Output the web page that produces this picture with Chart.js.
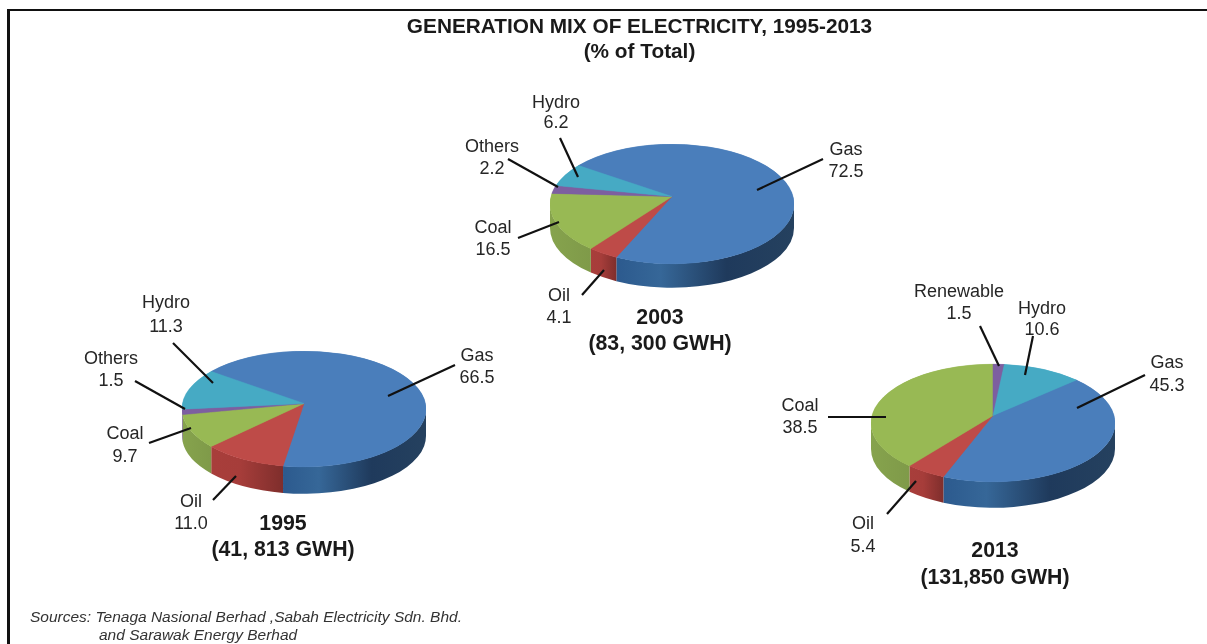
<!DOCTYPE html>
<html lang="en">
<head>
    <meta charset="UTF-8">
    <title>Generation Mix of Electricity, 1995-2013</title>
    <script src="https://cdn.jsdelivr.net/npm/chart.js@4/dist/chart.umd.min.js"></script>
    <style>
        html, body { margin: 0; padding: 0; background: #fff; overflow: hidden; }
        #page { position: relative; width: 1207px; height: 644px; font-family: "Liberation Sans", Arial, sans-serif; color: #262626; filter: blur(0.35px); }
        #frame { position: absolute; left: 7px; top: 9px; width: 1200px; height: 635px; border-left: 3px solid #111; border-top: 2px solid #111; box-sizing: border-box; }
        canvas { position: absolute; }
        svg { position: absolute; left: 0; top: 0; }
        .txt { position: absolute; transform: translate(-50%, -50%); white-space: nowrap; line-height: 1; }
        .lbl { font-size: 18px; }
        .head { font-size: 20.8px; font-weight: bold; color: #1a1a1a; }
        .year { font-size: 21.3px; font-weight: bold; color: #1a1a1a; }
        .src { position: absolute; font-size: 15.5px; font-style: italic; color: #333; white-space: nowrap; line-height: 1; }
    </style>
</head>
<body>
<div id="page">
    <div id="frame"></div>
    <div class="txt head" style="left:639.5px;top:26px">GENERATION MIX OF ELECTRICITY, 1995-2013</div>
    <div class="txt head" style="left:639.5px;top:51px">(% of Total)</div>
    <div class="src" style="left:30px;top:609px">Sources: Tenaga Nasional Berhad ,Sabah Electricity Sdn. Bhd.</div>
    <div class="src" style="left:99px;top:627px">and Sarawak Energy Berhad</div>
</div>

<script>
    // values (% of total)
    const labels1995 = ['Gas', 'Oil', 'Coal', 'Others', 'Hydro'];
    const values1995 = [66.5, 11.0, 9.7, 1.5, 11.3];
    const labels2003 = ['Gas', 'Oil', 'Coal', 'Others', 'Hydro'];
    const values2003 = [72.5, 4.1, 16.5, 2.2, 6.2];
    const labels2013 = ['Gas', 'Oil', 'Coal', 'Renewable', 'Hydro'];
    const values2013 = [45.3, 5.4, 38.5, 1.5, 10.6];

    const topColors = { Gas: '#4a7ebb', Oil: '#be4b48', Coal: '#98b954', Others: '#7d5fa0', Renewable: '#7d5fa0', Hydro: '#46aac4' };
    const wallColors = {
        Gas: [[0, '#2c5a8e'], [0.25, '#366798'], [0.62, '#1f3a5c'], [1, '#25415f']],
        Oil: [[0, '#a83e3b'], [0.4, '#a63d3a'], [1, '#7f2e2c']],
        Coal: [[0, '#86a34d'], [1, '#7f9a49']],
        Others: [[0, '#664c82'], [1, '#664c82']],
        Renewable: [[0, '#664c82'], [1, '#664c82']],
        Hydro: [[0, '#38889d'], [1, '#38889d']]
    };

    function rimRadius(arc) {
        return arc.outerRadius + 0.5;
    }

    // squashes the round pie into an ellipse and puts the side wall under it
    const tiltPlugin = {
        id: 'tilt',
        beforeDatasetsDraw(chart, args, opts) {
            const ctx = chart.ctx;
            const arcs = chart.getDatasetMeta(0).data;
            const cx = arcs[0].x, cy = arcs[0].y;
            const rx = rimRadius(arcs[0]);
            const ry = rx * opts.squash;

            arcs.forEach((arc, i) => {
                const name = chart.data.labels[i];
                for (let k = -1; k <= 1; k++) {
                    const a0 = Math.max(arc.startAngle, k * 2 * Math.PI);
                    const a1 = Math.min(arc.endAngle, k * 2 * Math.PI + Math.PI);
                    if (a1 <= a0) continue;
                    const xa = cx + rx * Math.cos(a1), xb = cx + rx * Math.cos(a0);
                    const grad = ctx.createLinearGradient(xa, 0, xb, 0);
                    wallColors[name].forEach(s => grad.addColorStop(s[0], s[1]));
                    ctx.beginPath();
                    ctx.ellipse(cx, cy, rx, ry, 0, a0, a1);
                    ctx.ellipse(cx, cy + opts.depth, rx, ry, 0, a1, a0, true);
                    ctx.closePath();
                    ctx.fillStyle = grad;
                    ctx.fill();
                }
            });

            ctx.save();
            ctx.translate(cx, cy);
            ctx.scale(1, opts.squash);
            ctx.translate(-cx, -cy);
        },
        afterDatasetsDraw(chart, args, opts) {
            const ctx = chart.ctx;
            ctx.restore();

            // perspective: the slices meet a little above the middle of the ellipse
            const arcs = chart.getDatasetMeta(0).data;
            const cx = arcs[0].x, cy = arcs[0].y;
            const rx = rimRadius(arcs[0]);
            const ry = rx * opts.squash;
            arcs.forEach((arc, i) => {
                const color = topColors[chart.data.labels[i]];
                ctx.beginPath();
                ctx.moveTo(cx, cy - opts.apexLift);
                ctx.ellipse(cx, cy, rx, ry, 0, arc.startAngle, arc.endAngle);
                ctx.closePath();
                ctx.fillStyle = color;
                ctx.strokeStyle = color;
                ctx.lineWidth = 0.5;
                ctx.fill();
                ctx.stroke();
            });
        }
    };

    const page = document.getElementById('page');

    function addPie(labels, values, rotation, cx, cy, ry, depth, apexLift) {
        const size = 244;
        const canvas = document.createElement('canvas');
        canvas.width = size;
        canvas.height = size;
        canvas.style.left = (cx - size / 2) + 'px';
        canvas.style.top = (cy - size / 2) + 'px';
        canvas.style.width = size + 'px';
        canvas.style.height = size + 'px';
        page.appendChild(canvas);

        new Chart(canvas, {
            type: 'pie',
            data: {
                labels: labels,
                datasets: [{
                    data: values,
                    backgroundColor: labels.map(n => topColors[n]),
                    borderColor: labels.map(n => topColors[n]),
                    borderWidth: 1
                }]
            },
            options: {
                responsive: false,
                animation: false,
                rotation: rotation,
                layout: { padding: 0 },
                plugins: {
                    legend: { display: false },
                    tooltip: { enabled: false },
                    tilt: { squash: ry / 121.5, depth: depth, apexLift: apexLift }
                }
            },
            plugins: [tiltPlugin]
        });
    }

    addPie(labels1995, values1995, -49.5, 303.5, 408.5, 57.5, 27, 5.5);
    addPie(labels2003, values2003, -50, 671.5, 204, 59.5, 24, 7.5);
    addPie(labels2013, values2013, 43, 992.7, 422.5, 58.5, 26, 7.5);

    // leader lines, page pixels
    const leaders = [
        [173, 343, 213, 383], [135, 381, 185, 409], [149, 443, 191, 428], [213, 500, 236, 476], [455, 365, 388, 396],
        [560, 138, 578, 177], [508, 159, 558, 187], [518, 238, 559, 222], [582, 295, 604, 270], [823, 159, 757, 190],
        [980, 326, 999, 366], [1033, 336, 1025, 375], [1145, 375, 1077, 408], [828, 417, 886, 417], [887, 514, 916, 481]
    ];
    const svgNs = 'http://www.w3.org/2000/svg';
    const svg = document.createElementNS(svgNs, 'svg');
    svg.setAttribute('width', 1207);
    svg.setAttribute('height', 644);
    leaders.forEach(l => {
        const line = document.createElementNS(svgNs, 'line');
        line.setAttribute('x1', l[0]);
        line.setAttribute('y1', l[1]);
        line.setAttribute('x2', l[2]);
        line.setAttribute('y2', l[3]);
        line.setAttribute('stroke', '#111');
        line.setAttribute('stroke-width', 2.2);
        svg.appendChild(line);
    });
    page.appendChild(svg);

    function addText(text, cls, x, y) {
        const el = document.createElement('div');
        el.className = 'txt ' + cls;
        el.textContent = text;
        el.style.left = x + 'px';
        el.style.top = y + 'px';
        page.appendChild(el);
    }

    // name, value, x, y of first line, y of second line
    const labelSpots = [
        ['Hydro', '11.3', 166, 302, 326], ['Others', '1.5', 111, 358, 380], ['Coal', '9.7', 125, 433, 456],
        ['Oil', '11.0', 191, 501, 523], ['Gas', '66.5', 477, 355, 377],
        ['Hydro', '6.2', 556, 102, 122], ['Others', '2.2', 492, 146, 168], ['Coal', '16.5', 493, 227, 249],
        ['Oil', '4.1', 559, 295, 317], ['Gas', '72.5', 846, 149, 171],
        ['Renewable', '1.5', 959, 291, 313], ['Hydro', '10.6', 1042, 308, 329], ['Gas', '45.3', 1167, 362, 385],
        ['Coal', '38.5', 800, 405, 427], ['Oil', '5.4', 863, 523, 546]
    ];
    labelSpots.forEach(s => {
        addText(s[0], 'lbl', s[2], s[3]);
        addText(s[1], 'lbl', s[2], s[4]);
    });

    addText('1995', 'year', 283, 524);
    addText('(41, 813 GWH)', 'year', 283, 550);
    addText('2003', 'year', 660, 318);
    addText('(83, 300 GWH)', 'year', 660, 344);
    addText('2013', 'year', 995, 551);
    addText('(131,850 GWH)', 'year', 995, 578);
</script>
</body>
</html>
